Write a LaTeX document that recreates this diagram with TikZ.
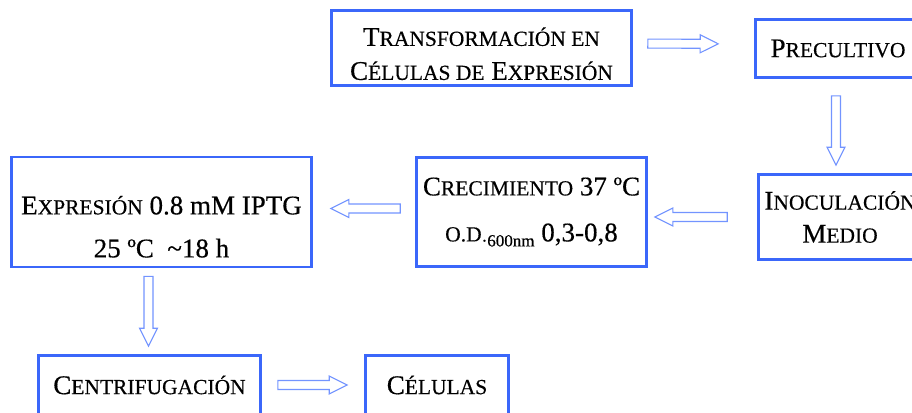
\documentclass[tikz,border=0pt]{standalone}
\usepackage{fontspec}
\setmainfont{Liberation Serif}[FakeBold=0.4]
\usetikzlibrary{calc}
\usetikzlibrary{positioning}

\definecolor{boxblue}{RGB}{59,103,250}
\definecolor{arrowblue}{RGB}{115,148,255}

% fake small capitals, as the word processor draws them
\newcommand{\smc}[1]{{\fontsize{21.5pt}{31pt}\selectfont #1}}

\begin{document}
\begin{tikzpicture}[x=1pt,y=-1pt]
        % Define styles for shapes
        \tikzstyle{stepbox} = [draw=boxblue, line width=2.6pt, align=center, inner sep=0pt, font=\fontsize{27pt}{31pt}\selectfont]
        \tikzset{flow/.style 2 args={draw=arrowblue, fill=white, line width=1.1pt, line join=miter,
            to path={let \p1=(\tikztostart), \p2=(\tikztotarget),
              \n1={atan2(\y2-\y1,\x2-\x1)}, \n2={veclen(\x2-\x1,\y2-\y1)-#1-#2-18pt} in
              (\p1) ++(\n1:#1) ++(\n1+90:4.5pt) -- ++(\n1:{\n2+0pt}) -- ++(\n1+90:4.5pt)
              -- ++(\n1-26.565:20.125pt) -- ++(\n1+206.565:20.125pt) -- ++(\n1+90:4.5pt)
              -- ++(\n1+180:{\n2+0pt}) -- cycle}}}

        \useasboundingbox (0,0) rectangle (912,412);
        \clip (0,0) rectangle (912,412);

        % Draw shapes
        \node[stepbox, minimum width=300pt, minimum height=75pt] (transf) at (481.5,48) {
                \rule{0pt}{30pt}T\smc{RANSFORMACIÓN EN}\\[3pt]
                C\smc{ÉLULAS DE} E\smc{XPRESIÓN}
        };
        \node[stepbox, minimum width=165pt, minimum height=58pt] (precult) at (838,48.5) {P\smc{RECULTIVO}};
        \node[stepbox, minimum width=163pt, minimum height=85pt] (inocul) at (840,217) {
                I\smc{NOCULACIÓN}\\[2pt]
                M\smc{EDIO}
        };
        \node[stepbox, minimum width=230pt, minimum height=109pt] (crecim) at (531.5,212) {
                C\smc{RECIMIENTO} 37 ºC\\[15pt]
                \smc{O.D}{\fontsize{17pt}{17pt}\selectfont\raisebox{-5pt}{·600nm}} 0,3-0,8
        };
        \node[stepbox, minimum width=300pt, minimum height=110pt] (expres) at (161.5,212) {
                \rule{0pt}{48pt}E\smc{XPRESIÓN} 0.8 mM IPTG\\[12pt]
                25 ºC\ \ \textasciitilde18 h
        };
        \node[stepbox, minimum width=222pt, minimum height=59pt] (centrif) at (149.5,385) {C\smc{ENTRIFUGACIÓN}};
        \node[stepbox, minimum width=143pt, minimum height=59pt] (celulas) at (437,385) {C\smc{ÉLULAS}};

        % Draw arrows
        \draw[flow={15pt}{36pt}] ([yshift=4.5pt]transf.east) to ([yshift=4.5pt]precult.west);
        \draw[flow={17pt}{8pt}] ([xshift=-2pt]precult.south) to ([xshift=-2pt]precult.south |- inocul.north);
        \draw[flow={30pt}{7pt}] (inocul.west) to (inocul.west -| crecim.east);
        \draw[flow={15pt}{18pt}] ([yshift=3.5pt]crecim.west) to ([yshift=3.5pt]crecim.west -| expres.east);
        \draw[flow={8pt}{8pt}] ([xshift=-1pt]centrif.north |- expres.south) to ([xshift=-1pt]centrif.north);
        \draw[flow={16pt}{17pt}] (centrif.east) to (celulas.west);
\end{tikzpicture}
\end{document}
